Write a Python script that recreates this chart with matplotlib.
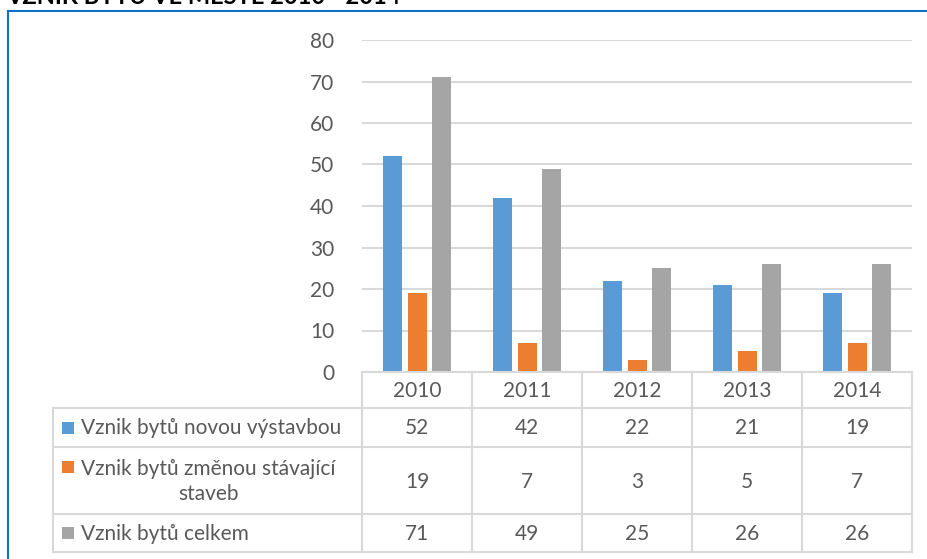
"""Vznik bytů ve městě 2010-2014: column chart with data table."""

import matplotlib
matplotlib.use("Agg")
import matplotlib.pyplot as plt
import numpy as np
from matplotlib.lines import Line2D
from matplotlib.patches import Rectangle

# ---------------------------------------------------------------------------
# Data
# ---------------------------------------------------------------------------
years = ["2010", "2011", "2012", "2013", "2014"]
series_names = [
    "Vznik bytů novou výstavbou",
    "Vznik bytů změnou stávající\nstaveb",
    "Vznik bytů celkem",
]
nova_vystavba = [52, 42, 22, 21, 19]
zmena_staveb = [19, 7, 3, 5, 7]
celkem = [71, 49, 25, 26, 26]
y_ticks = [0, 10, 20, 30, 40, 50, 60, 70, 80]
title = "VZNIK BYTŮ VE MĚSTĚ 2010 - 2014"

series = [nova_vystavba, zmena_staveb, celkem]
colors = ["#5B9BD5", "#ED7D31", "#A5A5A5"]
TEXT = "#595959"
GRID = "#D9D9D9"

W, H = 927, 559
plt.rcParams["font.family"] = ["Lato", "DejaVu Sans"]

fig = plt.figure(figsize=(W / 100, H / 100), dpi=100)


def fx(px):
    return px / W


def fy(py):
    return 1 - py / H


# outer chart border (blue), open at right/bottom
fig.add_artist(Line2D([fx(8), fx(8)], [fy(11), fy(560)], color="#0B72C9", lw=1.5))
fig.add_artist(Line2D([fx(8), 1.0], [fy(11), fy(11)], color="#0B72C9", lw=1.5))

# title, clipped by the top edge as in the source image
fig.text(fx(400), fy(4), title, ha="right", va="baseline",
         fontsize=17, fontweight="bold", color="black")

# ---------------------------------------------------------------------------
# Column chart
# ---------------------------------------------------------------------------
left, right, top, bottom = 362, 912, 40, 372
ax = fig.add_axes([fx(left), fy(bottom), fx(right - left), (bottom - top) / H])
x = np.arange(len(years))
bar_w = 19 / 110
pitch = 24.3 / 110
for i, (vals, c) in enumerate(zip(series, colors)):
    ax.bar(x + (i - 1) * pitch, vals, width=bar_w, color=c, zorder=3)

ax.set_xlim(-0.5, len(years) - 0.5)
ax.set_ylim(0, 80)
ax.set_yticks(y_ticks)
ax.set_xticks([])
ax.tick_params(axis="y", length=0, pad=20, labelsize=15, labelcolor=TEXT)
ax.grid(axis="y", color=GRID, lw=1.5, zorder=0)
for s in ax.spines.values():
    s.set_visible(False)

# ---------------------------------------------------------------------------
# Data table
# ---------------------------------------------------------------------------
tab = fig.add_axes([0, 0, 1, 1], facecolor="none")
tab.set_xlim(0, W)
tab.set_ylim(H, 0)
tab.axis("off")

col_w = 110
row_edges = [372, 408, 447, 514, 552]
lab_left = 53

# horizontal lines
tab.plot([left, right], [row_edges[0]] * 2, color=GRID, lw=1.5)
for ry in row_edges[1:]:
    tab.plot([lab_left, right], [ry, ry], color=GRID, lw=1.5)
# vertical lines
for k in range(len(years) + 1):
    cx = left + k * col_w
    tab.plot([cx, cx], [row_edges[0], row_edges[-1]], color=GRID, lw=1.5)
tab.plot([lab_left, lab_left], [row_edges[1], row_edges[-1]], color=GRID, lw=1.5)

fs = 15
for k, yr in enumerate(years):
    tab.text(left + (k + 0.5) * col_w, (row_edges[0] + row_edges[1]) / 2 + 1, yr,
             ha="center", va="center", fontsize=fs, color=TEXT)

for r, (name, vals, c) in enumerate(zip(series_names, series, colors)):
    y0, y1 = row_edges[r + 1], row_edges[r + 2]
    yc = (y0 + y1) / 2 + 1
    if "\n" in name:
        key_y = y0 + 20
    else:
        key_y = yc - 1
    tab.text(81, yc, name, ha="left", va="center", fontsize=fs, color=TEXT,
             multialignment="center", linespacing=1.3)
    tab.add_patch(Rectangle((62, key_y - 6), 12, 12, color=c, lw=0))
    for k, v in enumerate(vals):
        tab.text(left + (k + 0.5) * col_w, yc, str(v), ha="center", va="center",
                 fontsize=fs, color=TEXT)

fig.savefig("out.png", dpi=100)
plt.close(fig)
